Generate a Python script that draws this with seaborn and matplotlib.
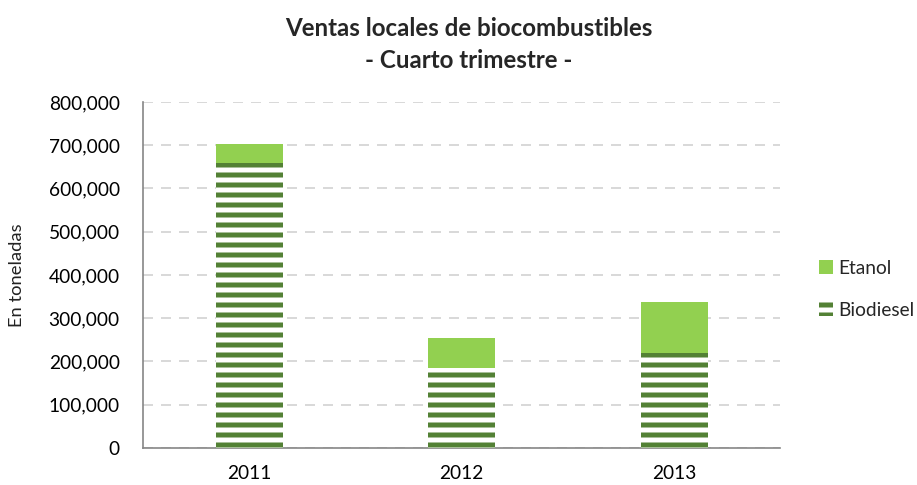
import matplotlib
matplotlib.use('Agg')
import matplotlib.pyplot as plt
import matplotlib.ticker as mticker
from matplotlib.patches import Patch
import seaborn as sns
import pandas as pd

# datos (toneladas)
years = ['2011', '2012', '2013']
biodiesel = [659000, 185000, 220000]
etanol = [44000, 69000, 117000]

ETANOL_COLOR = '#92D050'
BIO_COLOR = '#538135'

sns.set_theme(style='white')
plt.rcParams['font.family'] = ['Lato', 'DejaVu Sans']
plt.rcParams['hatch.linewidth'] = 3.0

df = pd.DataFrame({'year': years, 'biodiesel': biodiesel, 'etanol': etanol})
df['total'] = df['biodiesel'] + df['etanol']

fig = plt.figure(figsize=(917 / 120, 485 / 120), dpi=120)
ax = fig.add_axes([0.156, 0.0763, 0.695, 0.7134])

# etanol = barra total, biodiesel encima con rayas
sns.barplot(data=df, x='year', y='total', color=ETANOL_COLOR, saturation=1,
            width=0.315, linewidth=0, ax=ax, zorder=2)
sns.barplot(data=df, x='year', y='biodiesel', color='white', saturation=1,
            width=0.315, edgecolor=BIO_COLOR, linewidth=0, hatch='--', ax=ax, zorder=3)

ax.set_ylim(0, 800000)
ax.yaxis.set_major_locator(mticker.MultipleLocator(100000))
ax.yaxis.set_major_formatter(mticker.FuncFormatter(lambda v, p: f'{int(v):,}'))
ax.grid(axis='y', color='#D9D9D9', linestyle=(0, (5, 4)), linewidth=1.2, zorder=0)
ax.set_axisbelow(True)

for s in ['top', 'right']:
    ax.spines[s].set_visible(False)
for s in ['left', 'bottom']:
    ax.spines[s].set_color('#868686')
    ax.spines[s].set_linewidth(1.0)

ax.tick_params(axis='both', labelsize=11.5, colors='black', length=0)
ax.tick_params(axis='x', pad=10)
ax.tick_params(axis='y', pad=14)
ax.set_xlabel('')
ax.set_ylabel('En toneladas', fontsize=11, color='#222222')
ax.yaxis.set_label_coords(-0.185, 0.5)

fig.suptitle('Ventas locales de biocombustibles\n- Cuarto trimestre -',
             fontsize=14.5, fontweight='bold', y=0.965, x=0.511, linespacing=1.45)

handles = [Patch(facecolor=ETANOL_COLOR, edgecolor=ETANOL_COLOR, linewidth=0),
           Patch(facecolor='white', edgecolor=BIO_COLOR, linewidth=0, hatch='--')]
fig.legend(handles, ['Etanol', 'Biodiesel'], loc='center left',
           bbox_to_anchor=(0.885, 0.404), frameon=False, fontsize=11.5,
           handlelength=0.7, handleheight=0.7, handletextpad=0.3,
           labelspacing=1.3, borderaxespad=0)

fig.savefig('out.png', dpi=120)
